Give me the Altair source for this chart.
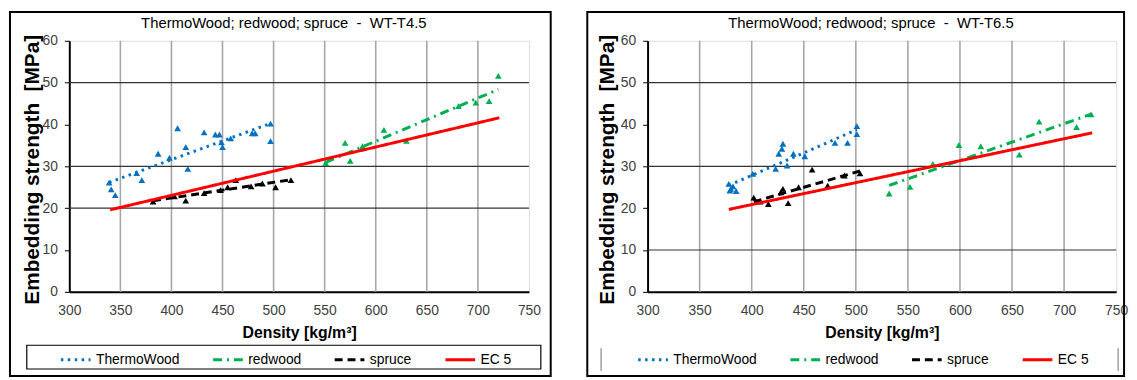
import altair as alt
import pandas as pd

# ---------------- data ----------------
series_names = ["ThermoWood", "redwood", "spruce", "EC 5"]
series_colors = ["#0070C0", "#00B050", "#000000", "#FF0000"]
series_dash = [[2.5, 4.5], [9, 5, 2, 5], [8, 5], [1, 0]]

NB = "\u00a0"
titles = ["ThermoWood; redwood; spruce " + NB + "-" + NB + " WT-T4.5",
          "ThermoWood; redwood; spruce " + NB + "-" + NB + " WT-T6.5"]
x_title = "Density [kg/m³]"
y_title = "Embedding strength " + NB + "[MPa]"
x_ticks = [300, 350, 400, 450, 500, 550, 600, 650, 700, 750]
y_ticks = [0, 10, 20, 30, 40, 50, 60]
v_grid = [350, 400, 450, 500, 550, 600, 650, 700]

# WT-T4.5
t45_thermo_density = [339, 341, 345, 366, 371, 387, 398, 406, 414, 416,
                      432, 443, 447, 449, 450, 458, 479, 482, 497, 497]
t45_thermo_strength = [26.1, 24.5, 23.1, 28.4, 26.7, 33.0, 32.0, 39.1, 34.6, 29.4,
                       38.1, 37.6, 37.6, 35.7, 34.6, 36.7, 37.9, 37.9, 40.2, 36.0]
t45_red_density = [551, 570, 575, 587, 608, 630, 681, 698, 711, 720]
t45_red_strength = [30.8, 35.6, 31.3, 34.8, 38.7, 36.1, 44.4, 45.2, 45.6, 51.6]
t45_spruce_density = [382, 403, 414, 432, 448, 455, 463, 478, 489, 502, 517]
t45_spruce_strength = [21.6, 22.8, 21.8, 23.6, 24.3, 25.0, 26.7, 25.2, 25.9, 25.0, 26.7]
t45_ec5_density = [340, 721]
t45_ec5_strength = [19.6, 41.6]
t45_h_grid = [20, 30, 50]

# WT-T6.5
t65_thermo_density = [378, 379, 380, 382, 385, 401, 423, 426, 429, 430,
                      434, 440, 451, 480, 492, 501, 501]
t65_thermo_strength = [25.8, 24.2, 24.6, 25.2, 24.1, 28.2, 29.4, 33.0, 34.2, 35.4,
                       30.2, 33.0, 32.4, 35.6, 35.6, 39.6, 37.7]
t65_red_density = [532, 552, 574, 599, 620, 657, 676, 712, 726]
t65_red_strength = [23.5, 25.1, 30.6, 35.1, 34.8, 32.8, 40.7, 39.4, 42.4]
t65_spruce_density = [402, 408, 416, 428, 430, 435, 445, 458, 473, 489, 504]
t65_spruce_strength = [22.5, 21.6, 21.0, 23.8, 24.6, 21.2, 25.0, 29.2, 25.4, 27.8, 28.3]
t65_ec5_density = [378, 727]
t65_ec5_strength = [19.7, 38.0]
t65_h_grid = [10, 30, 50]

FONT = "Liberation Sans"


def make_df(groups):
    rows = []
    for name, dens, stren in groups:
        for d, s in zip(dens, stren):
            rows.append({"series": name, "density": d, "strength": s})
    return pd.DataFrame(rows)


def panel(df, h_grid, title, w, h, frame, leg_xy, leg_box, title_x, ytitle_x):
    xs = alt.Scale(domain=[300, 750], nice=False, zero=False)
    ys = alt.Scale(domain=[0, 60], nice=False)
    xax = alt.Axis(values=x_ticks, grid=False, tickSize=0, labelPadding=12,
                   labelFont=FONT, labelFontSize=14, labelColor="#404040",
                   domainColor="black", domainWidth=2, labelFlush=False,
                   title=x_title, titleFont=FONT, titleFontSize=16,
                   titleFontWeight="bold", titleColor="black",
                   titleX=w / 2, titleY=41, titleBaseline="middle")
    yax = alt.Axis(values=y_ticks, grid=False, tickSize=5, tickColor="black",
                   labelPadding=7, labelFont=FONT, labelFontSize=14,
                   labelColor="#404040", domainColor="black", domainWidth=2,
                   title=y_title, titleFont=FONT, titleFontSize=21,
                   titleFontWeight="bold", titleColor="black",
                   titleX=ytitle_x, titleY=h / 2 + 3, titleAngle=-90,
                   titleAlign="center", titleBaseline="middle")
    X = alt.X("density:Q", scale=xs, axis=xax)
    Y = alt.Y("strength:Q", scale=ys, axis=yax)

    one = pd.DataFrame({"k": [0]})
    fx0, fx1, fy0, fy1 = frame
    frame_layer = alt.Chart(one).mark_rect(filled=False, stroke="black", strokeWidth=2).encode(
        x=alt.value(fx0), x2=alt.value(fx1), y=alt.value(fy0), y2=alt.value(fy1))

    vgrid_layer = alt.Chart(pd.DataFrame({"density": v_grid})).mark_rule(
        color="#a6a6a6", strokeWidth=1.6).encode(x=X)
    hgrid_layer = alt.Chart(pd.DataFrame({"strength": h_grid})).mark_rule(
        color="#333333", strokeWidth=1.2).encode(y=Y)

    title_layer = alt.Chart(one).mark_text(
        text=title, font=FONT, fontSize=15, color="black",
        align="center", baseline="middle").encode(
        x=alt.value(title_x), y=alt.value(-18))

    base = alt.Chart(df)
    pts = base.transform_filter(alt.datum.series != "EC 5").mark_point(
        shape="triangle-up", filled=True, size=46, opacity=1).encode(
        x=X, y=Y,
        fill=alt.Fill("series:N", scale=alt.Scale(domain=series_names[:3],
                                                  range=series_colors[:3]), legend=None))

    leg = alt.Legend(title=None, orient="none", legendX=leg_xy[0], legendY=leg_xy[1],
                     direction="horizontal", columns=4, columnPadding=27,
                     symbolType="stroke", symbolSize=900, symbolStrokeWidth=3,
                     labelFont=FONT, labelFontSize=14, labelColor="black",
                     labelOffset=4, padding=0, labelLimit=300)
    lines = base.transform_regression("density", "strength", groupby=["series"]).mark_line(
        strokeWidth=3).encode(
        x=X, y=Y,
        color=alt.Color("series:N", scale=alt.Scale(domain=series_names, range=series_colors),
                        legend=leg),
        strokeDash=alt.StrokeDash("series:N", scale=alt.Scale(domain=series_names,
                                                              range=series_dash), legend=leg))

    layers = [frame_layer, vgrid_layer, hgrid_layer, pts, lines, title_layer]
    kind, bx0, bx1, by0, by1 = leg_box
    if kind == "box":
        layers.append(alt.Chart(one).mark_rect(filled=False, stroke="black", strokeWidth=1.2).encode(
            x=alt.value(bx0), x2=alt.value(bx1), y=alt.value(by0), y2=alt.value(by1)))
    else:
        layers.append(alt.Chart(pd.DataFrame({"px": [bx0, bx1]})).mark_rule(
            color="#a0a0a0", strokeWidth=1.5).encode(
            x=alt.X("px:Q", scale=None), y=alt.value(by0), y2=alt.value(by1)))
    return alt.layer(*layers).properties(width=w, height=h)


df45 = make_df([("ThermoWood", t45_thermo_density, t45_thermo_strength),
                ("redwood", t45_red_density, t45_red_strength),
                ("spruce", t45_spruce_density, t45_spruce_strength),
                ("EC 5", t45_ec5_density, t45_ec5_strength)])
df65 = make_df([("ThermoWood", t65_thermo_density, t65_thermo_strength),
                ("redwood", t65_red_density, t65_red_strength),
                ("spruce", t65_spruce_density, t65_spruce_strength),
                ("EC 5", t65_ec5_density, t65_ec5_strength)])

p1 = panel(df45, t45_h_grid, titles[0], 465, 254, (-60, 487, -29, 339),
           (-10, 306), ("box", -43, 477, 308, 332), 217, -37)
p2 = panel(df65, t65_h_grid, titles[1], 474, 254, (-61, 482, -29, 339),
           (-11, 306), ("bars", -47, 476, 311, 334), 226, -40)

chart = alt.hconcat(p1, p2, spacing=33).properties(padding=0).resolve_scale(
    color="independent", strokeDash="independent", fill="independent",
    x="independent", y="independent").resolve_legend(
    color="independent", strokeDash="independent").configure_view(
    stroke="black", strokeWidth=1.5).configure(background="white")

chart.save("out.html", embed_options={"renderer": "svg", "actions": False})
